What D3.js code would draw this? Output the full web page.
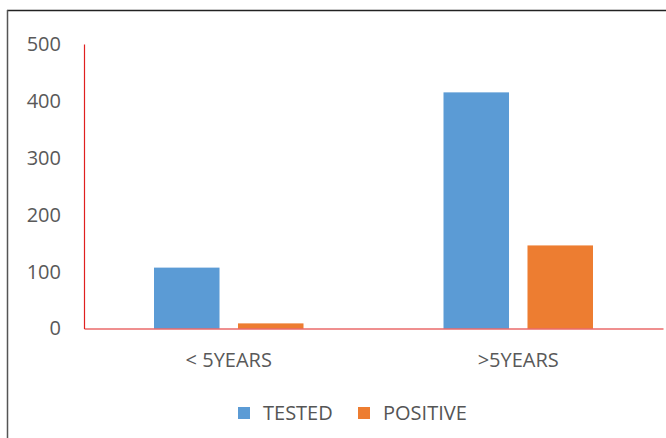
<!DOCTYPE html>
<html><head><meta charset="utf-8">
<script src="https://cdn.jsdelivr.net/npm/d3@7"></script>
<style>
html,body{margin:0;padding:0;background:#fff;}
svg{display:block;}
text{font-family:"Open Sans",sans-serif;fill:#595959;}
</style></head>
<body>
<svg id="c" width="666" height="438"></svg>
<script>
const categories = ["< 5YEARS", ">5YEARS"];
const seriesNames = ["TESTED", "POSITIVE"];
const tested = [107, 415];
const positive = [9, 146];
const yTicks = [0, 100, 200, 300, 400, 500];
const colors = ["#5b9bd5", "#ed7d31"];

(function(){
const svg = d3.select("#c");
const W = 666, H = 438;
const mLeft = 84, mRight = 663, mTop = 44, mBottom = 328.5;

// frame
svg.append("line").attr("x1",7).attr("x2",W).attr("y1",10.5).attr("y2",10.5).attr("stroke","#222").attr("stroke-width",1.5);
svg.append("line").attr("x1",7.5).attr("x2",7.5).attr("y1",10).attr("y2",H).attr("stroke","#555").attr("stroke-width",1.5);

const y = d3.scaleLinear().domain([0,500]).range([mBottom, mTop]);
const x0 = d3.scaleBand().domain(categories).range([mLeft, mRight]).paddingInner(0).paddingOuter(0);
const x1 = d3.scaleBand().domain(seriesNames).range([70, x0.bandwidth()-70]).paddingInner(0.22);

const data = categories.map((c,i)=>({cat:c, vals:[{s:"TESTED",v:tested[i]},{s:"POSITIVE",v:positive[i]}]}));

const g = svg.append("g");
g.selectAll("g.grp").data(data).join("g").attr("class","grp")
  .attr("transform",d=>`translate(${x0(d.cat)},0)`)
  .selectAll("rect").data(d=>d.vals).join("rect")
  .attr("x",d=>x1(d.s)).attr("width",x1.bandwidth())
  .attr("y",d=>y(d.v)).attr("height",d=>y(0)-y(d.v))
  .attr("fill",(d,i)=>colors[i]);

// y axis
const ya = svg.append("g").attr("transform",`translate(${mLeft},0)`)
  .call(d3.axisLeft(y).tickValues(yTicks).tickSize(0).tickPadding(23));
ya.select(".domain").attr("stroke","#e02020").attr("stroke-width",1.2);
ya.selectAll("text").style("font-family",'"Open Sans",sans-serif').style("font-size","20px").attr("fill","#555");

// x axis
const xa = svg.append("g").attr("transform",`translate(0,${mBottom})`)
  .call(d3.axisBottom(x0).tickSize(0).tickPadding(24));
xa.select(".domain").attr("stroke","#e02020").attr("stroke-width",1.2);
xa.selectAll("text").style("font-family",'"Open Sans",sans-serif').style("font-size","20px").attr("fill","#555");

// legend
const leg = svg.append("g").attr("transform","translate(0,413)");
const legX = [238, 358];
seriesNames.forEach((s,i)=>{
  leg.append("rect").attr("x",legX[i]).attr("y",-6).attr("width",12).attr("height",12).attr("fill",colors[i]);
  leg.append("text").attr("x",legX[i]+25).attr("y",0).attr("dy","0.35em").style("font-size","20px").style("fill","#555").text(s);
});
})();
</script>
</body></html>
